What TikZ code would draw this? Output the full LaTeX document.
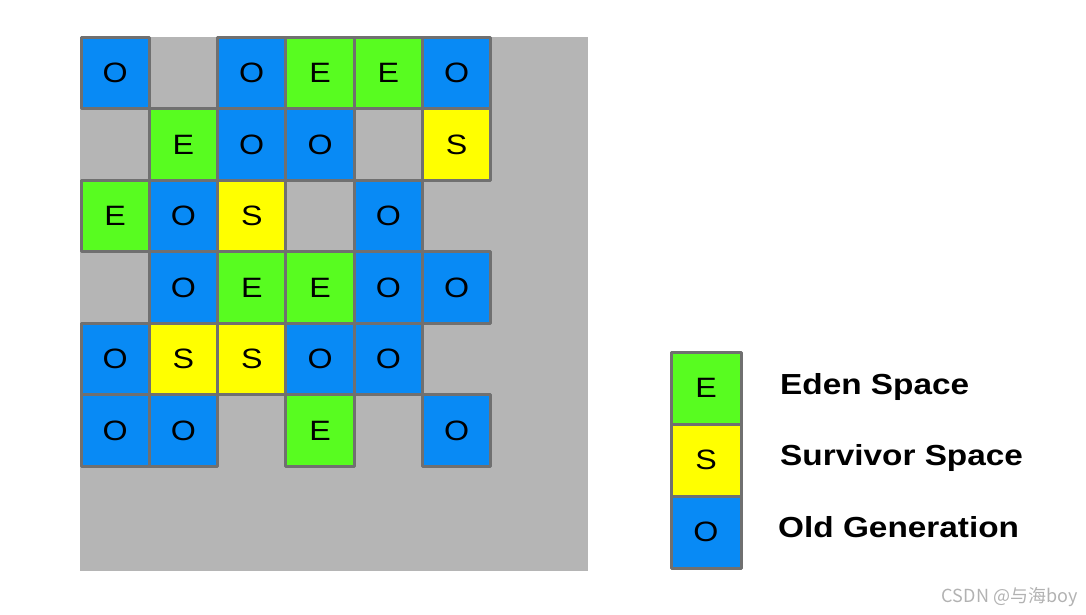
\documentclass[tikz,border=0pt]{standalone}
\usepackage{fontspec}
\setmainfont{Liberation Sans}
\newfontfamily\cellfont[FakeStretch=1.15]{Liberation Sans}
\newfontfamily\cjkfont{Noto Sans CJK SC}
\definecolor{heapgray}{RGB}{181,181,181}
\definecolor{cellborder}{RGB}{112,112,112}
\definecolor{oldblue}{RGB}{8,138,245}
\definecolor{edengreen}{RGB}{88,252,32}
\definecolor{survyellow}{RGB}{255,255,0}
\begin{document}
\begin{tikzpicture}[x=1pt, y=-1pt, line join=round]
	\tikzset{
		cell/.style={draw=cellborder, line width=3pt, inner sep=0pt,
			minimum width=68.3pt, minimum height=71.5pt,
			font=\cellfont\fontsize{28}{28}\selectfont, text=black},
		ocell/.style={cell, fill=oldblue},
		ecell/.style={cell, fill=edengreen},
		scell/.style={cell, fill=survyellow},
		keycell/.style={minimum width=70pt, minimum height=72pt},
		keytext/.style={anchor=base west, inner sep=0pt,
			font=\cellfont\bfseries\fontsize{29}{29}\selectfont}
	}
	\useasboundingbox (0,0) rectangle (1086,614);
	
	% VUNG HEAP
	\fill[heapgray] (80,37) rectangle (588,571);
	
	% CAC O REGION
	\foreach \r/\c/\k/\t in {
		1/1/ocell/O, 1/3/ocell/O, 1/4/ecell/E, 1/5/ecell/E, 1/6/ocell/O,
		2/2/ecell/E, 2/3/ocell/O, 2/4/ocell/O, 2/6/scell/S,
		3/1/ecell/E, 3/2/ocell/O, 3/3/scell/S, 3/5/ocell/O,
		4/2/ocell/O, 4/3/ecell/E, 4/4/ecell/E, 4/5/ocell/O, 4/6/ocell/O,
		5/1/ocell/O, 5/2/scell/S, 5/3/scell/S, 5/4/ocell/O, 5/5/ocell/O,
		6/1/ocell/O, 6/2/ocell/O, 6/4/ecell/E, 6/6/ocell/O%
	} {
		\node[\k] (c\r\c) at ({81+68.3*(\c-0.5)}, {37.3+71.5*(\r-0.5)}) {\t};
	}
	
	% CHU THICH
	\node[ecell, keycell] (keyE) at (706,388) {E};
	\node[scell, keycell] (keyS) at (706,460) {S};
	\node[ocell, keycell] (keyO) at (706,532) {O};
	\node[keytext] (txtE) at (780,394) {Eden Space};
	\node[keytext] (txtS) at (780,465) {Survivor Space};
	\node[keytext] (txtO) at (778,537) {Old Generation};
	
	\node[anchor=east, text=black!30, font=\cjkfont\fontsize{18}{18}\selectfont] (mark) at (1081,597) {CSDN @与海boy};
\end{tikzpicture}
\end{document}
